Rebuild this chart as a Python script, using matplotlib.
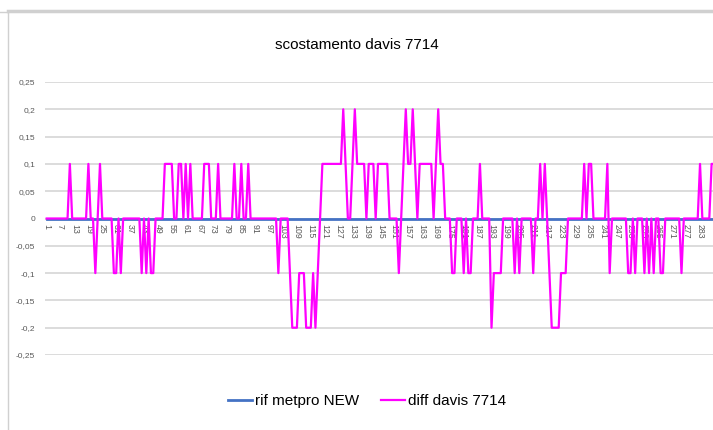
import matplotlib
matplotlib.use("Agg")
import matplotlib.pyplot as plt
from matplotlib.lines import Line2D

# data (one point per record)
categories = list(range(1, 290))

rif_metpro_new = [0.0] * len(categories)

diff_davis_7714 = [
    0, 0, 0, 0, 0, 0, 0, 0, 0, 0,
    0.1, 0, 0, 0, 0, 0, 0, 0, 0.1, 0,
    0, -0.1, 0, 0.1, 0, 0, 0, 0, 0, -0.1,
    -0.1, 0, -0.1, 0, 0, 0, 0, 0, 0, 0,
    0, -0.1, 0, -0.1, 0, -0.1, -0.1, 0, 0, 0,
    0, 0.1, 0.1, 0.1, 0.1, 0, 0, 0.1, 0.1, 0,
    0.1, 0, 0.1, 0, 0, 0, 0, 0, 0.1, 0.1,
    0.1, 0, 0, 0, 0.1, 0, 0, 0, 0, 0,
    0, 0.1, 0, 0, 0.1, 0, 0, 0.1, 0, 0,
    0, 0, 0, 0, 0, 0, 0, 0, 0, 0,
    -0.1, 0, 0, 0, 0, -0.1, -0.2, -0.2, -0.2, -0.1,
    -0.1, -0.1, -0.2, -0.2, -0.2, -0.1, -0.2, -0.1, 0, 0.1,
    0.1, 0.1, 0.1, 0.1, 0.1, 0.1, 0.1, 0.1, 0.2, 0.1,
    0, 0, 0.1, 0.2, 0.1, 0.1, 0.1, 0.1, 0, 0.1,
    0.1, 0.1, 0, 0.1, 0.1, 0.1, 0.1, 0.1, 0, 0,
    0, 0, -0.1, 0, 0.1, 0.2, 0.1, 0.1, 0.2, 0.1,
    0, 0.1, 0.1, 0.1, 0.1, 0.1, 0.1, 0, 0.1, 0.2,
    0.1, 0.1, 0, 0, 0, -0.1, -0.1, 0, 0, 0,
    -0.1, 0, -0.1, -0.1, 0, 0, 0, 0.1, 0, 0,
    0, 0, -0.2, -0.1, -0.1, -0.1, -0.1, 0, 0, 0,
    0, 0, -0.1, 0, -0.1, 0, 0, 0, 0, 0,
    -0.1, 0, 0, 0.1, 0, 0.1, 0, -0.1, -0.2, -0.2,
    -0.2, -0.2, -0.1, -0.1, -0.1, 0, 0, 0, 0, 0,
    0, 0, 0.1, 0, 0.1, 0.1, 0, 0, 0, 0,
    0, 0, 0.1, -0.1, 0, 0, 0, 0, 0, 0,
    0, -0.1, -0.1, 0, -0.1, 0, 0, 0, -0.1, 0,
    -0.1, 0, -0.1, 0, 0, -0.1, -0.1, 0, 0, 0,
    0, 0, 0, 0, -0.1, 0, 0, 0, 0, 0,
    0, 0, 0.1, 0, 0, 0, 0, 0.1, 0.1,
]

# excel shows every 6th category label, the last one being 283
xtick_values = categories[0:283:6]
xtick_labels = [str(c) for c in xtick_values]
ytick_values = [-0.25, -0.2, -0.15, -0.1, -0.05, 0, 0.05, 0.1, 0.15, 0.2, 0.25]
ytick_labels = ["-0,25", "-0,2", "-0,15", "-0,1", "-0,05", "0",
                "0,05", "0,1", "0,15", "0,2", "0,25"]

plt.rcParams["font.family"] = ["Liberation Sans", "DejaVu Sans"]

W, H = 713, 430
fig = plt.figure(figsize=(W / 100, H / 100), dpi=100)
ax = fig.add_axes([45 / W, 1 - 355 / H, 1 - 45 / W, 273 / H])

grey = "#D9D9D9"
ax.plot(categories, rif_metpro_new, color="#4472C4", linewidth=2, label="rif metpro NEW", zorder=3)
ax.plot(categories, diff_davis_7714, color="#FF00FF", linewidth=1.6, label="diff davis 7714", zorder=4)

ax.set_ylim(-0.25, 0.25)
ax.set_xlim(0.27, 288.6)
ax.set_yticks(ytick_values)
ax.set_yticklabels(ytick_labels)
ax.set_xticks(xtick_values)
ax.set_xticklabels(xtick_labels)

ax.yaxis.grid(True, color=grey, linewidth=1.3)
ax.set_axisbelow(True)
for side in ["top", "right", "left"]:
    ax.spines[side].set_visible(False)
ax.spines["bottom"].set_position(("data", 0))
ax.spines["bottom"].set_color(grey)
ax.tick_params(axis="x", length=0, labelsize=6.3, colors="#595959", pad=4,
               labelrotation=-90)
ax.tick_params(axis="y", length=0, labelsize=6, colors="#595959", pad=7)

fig.text(357 / W, 1 - 45 / H, "scostamento davis 7714", ha="center", va="center",
         fontsize=11, color="black")

handles, labels = ax.get_legend_handles_labels()
fig.legend(handles, labels, loc="center", bbox_to_anchor=(367 / W, 1 - 401 / H), ncol=2,
           frameon=False, fontsize=11, handlelength=1.6, handletextpad=0.2,
           columnspacing=1.4)

# chart area border (screenshot of excel)
fig.add_artist(Line2D([8 / W, 8 / W], [0, 1 - 12 / H], color="#D0D0D0", lw=1,
                      transform=fig.transFigure))
fig.add_artist(Line2D([8 / W, 1], [1 - 11 / H, 1 - 11 / H], color="#D0D0D0", lw=2.5,
                      transform=fig.transFigure))
fig.add_artist(Line2D([0, 8 / W], [1 - 12 / H, 1 - 12 / H], color="#D0D0D0", lw=1,
                      transform=fig.transFigure))

fig.savefig("out.png", dpi=100)
